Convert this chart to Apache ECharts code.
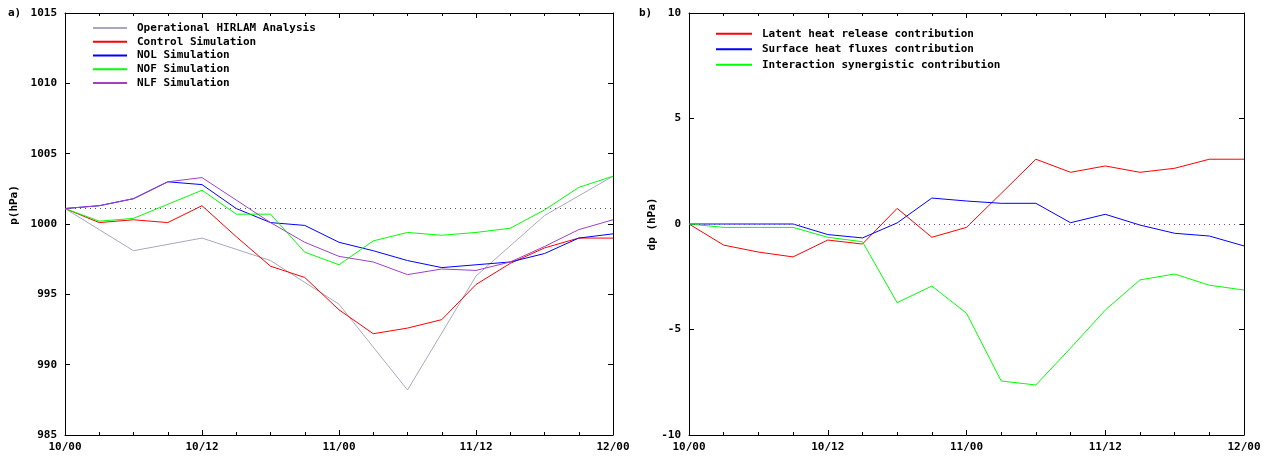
<!DOCTYPE html>
<html>
<head>
<meta charset="utf-8">
<script src="https://cdn.jsdelivr.net/npm/echarts@6/dist/echarts.min.js"></script>
<style>
html,body{margin:0;padding:0;background:#fff;}
#chart{width:1270px;height:457px;}
</style>
</head>
<body>
<div id="chart"></div>
<script>
// time axis: hours since 10/00
var hours3 = [0,3,6,9,12,15,18,21,24,27,30,33,36,39,42,45,48];
var hours6 = [0,6,12,18,24,30,36,42,48];
var xTickLabels = ['10/00','10/12','11/00','11/12','12/00'];

// panel a) surface pressure (hPa)
var hirlam  = [1001.1, 998.1, 999.0, 997.4, 994.3, 988.2, 996.3, 1000.6, 1003.4];
var control = [1001.1, 1000.1, 1000.3, 1000.1, 1001.3, 999.1, 997.0, 996.2, 993.9, 992.2, 992.6, 993.2, 995.7, 997.2, 998.3, 999.0, 999.0];
var nol     = [1001.1, 1001.3, 1001.8, 1003.0, 1002.8, 1001.1, 1000.1, 999.9, 998.7, 998.1, 997.4, 996.9, 997.1, 997.3, 997.9, 999.0, 999.3];
var nof     = [1001.1, 1000.2, 1000.4, 1001.4, 1002.4, 1000.7, 1000.7, 998.0, 997.1, 998.8, 999.4, 999.2, 999.4, 999.7, 1001.0, 1002.6, 1003.4];
var nlf     = [1001.1, 1001.3, 1001.8, 1003.0, 1003.3, 1001.7, 1000.1, 998.7, 997.7, 997.3, 996.4, 996.8, 996.7, 997.3, 998.4, 999.6, 1000.3];
var refA = 1001.1;

// panel b) contributions (hPa)
var latent  = [0, -1.0, -1.33, -1.56, -0.76, -0.95, 0.74, -0.63, -0.16, 1.45, 3.07, 2.45, 2.75, 2.45, 2.64, 3.07, 3.07];
var surface = [0, 0, 0, 0, -0.5, -0.66, 0.05, 1.23, 1.09, 0.98, 0.98, 0.06, 0.46, -0.05, -0.44, -0.57, -1.04];
var synergy = [0, -0.16, -0.16, -0.16, -0.63, -0.84, -3.73, -2.94, -4.23, -7.44, -7.63, -5.88, -4.08, -2.65, -2.37, -2.9, -3.13];
var refB = 0;

var FONT = '"DejaVu Sans Mono", monospace';

function pairs(xs, ys){
	var out = [];
	for(var i=0;i<ys.length;i++){
		out.push([xs[i], ys[i]]);
	}
	return out;
}

function xAx(grid, top){
	return {
		type: 'value', gridIndex: grid, position: top ? 'top' : 'bottom',
		min: 0, max: 48, interval: 12,
		axisLine: {show: true, onZero: false, lineStyle: {color: '#000', width: 1}},
		axisTick: {show: true, inside: true, length: 5, lineStyle: {color: '#000'}},
		minorTick: {show: true, splitNumber: 4, length: 3, lineStyle: {color: '#000'}},
		splitLine: {show: false},
		axisLabel: {
			show: !top, margin: 7, color: '#000', fontFamily: FONT, fontWeight: 'bold', fontSize: 11,
			formatter: function(v){ return xTickLabels[v/12]; }
		}
	};
}

function yAx(grid, right, min, max, name, gap, namePad){
	return {
		type: 'value', gridIndex: grid, position: right ? 'right' : 'left',
		min: min, max: max, interval: 5,
		name: right ? '' : name, nameLocation: 'middle', nameGap: gap, nameRotate: 90,
		nameTextStyle: {color: '#000', fontFamily: FONT, fontWeight: 'bold', fontSize: 11, padding: namePad || 0},
		axisLine: {show: true, onZero: false, lineStyle: {color: '#000', width: 1}},
		axisTick: {show: true, inside: true, length: 5, lineStyle: {color: '#000'}},
		splitLine: {show: false},
		axisLabel: {
			show: !right, margin: 8, color: '#000', fontFamily: FONT, fontWeight: 'bold', fontSize: 11,
			formatter: function(v){ return String(v); }
		}
	};
}

function line(name, color, xs, ys, xi, yi){
	return {
		name: name, type: 'line', xAxisIndex: xi, yAxisIndex: yi,
		data: pairs(xs, ys), symbol: 'none', silent: true,
		lineStyle: {color: color, width: 1}, itemStyle: {color: color}
	};
}

function refLine(value, color, xi, yi){
	return {
		type: 'line', xAxisIndex: xi, yAxisIndex: yi, data: [], silent: true,
		markLine: {
			symbol: 'none', silent: true, label: {show: false},
			lineStyle: {color: color, type: [1, 4], width: 1},
			data: [{yAxis: value}]
		}
	};
}

function legendText(lh){
	return {color: '#000', fontFamily: FONT, fontWeight: 'bold', fontSize: 11, lineHeight: lh, padding: [0,0,0,5]};
}

var option = {
	animation: false,
	title: [
		{text: 'a)', left: 8, top: 8, padding: 0, textStyle: {fontFamily: FONT, fontWeight: 'bold', fontSize: 11, color: '#000'}},
		{text: 'b)', left: 639, top: 8, padding: 0, textStyle: {fontFamily: FONT, fontWeight: 'bold', fontSize: 11, color: '#000'}}
	],
	legend: [
		{
			orient: 'vertical', left: 88, top: 16, itemWidth: 34, itemHeight: 2, itemGap: 0,
			icon: 'rect', textStyle: legendText(13.8),
			data: ['Operational HIRLAM Analysis','Control Simulation','NOL Simulation','NOF Simulation','NLF Simulation']
		},
		{
			orient: 'vertical', left: 711, top: 21, itemWidth: 36, itemHeight: 2, itemGap: 0,
			icon: 'rect', textStyle: legendText(15.5),
			data: ['Latent heat release contribution','Surface heat fluxes contribution','Interaction synergistic contribution']
		}
	],
	grid: [
		{left: 65, right: 657, top: 13, bottom: 22},
		{left: 689, right: 26, top: 13, bottom: 22}
	],
	xAxis: [xAx(0, false), xAx(0, true), xAx(1, false), xAx(1, true)],
	yAxis: [
		yAx(0, false, 985, 1015, 'p(hPa)', 45, [0, 0, 0, 38]),
		yAx(0, true, 985, 1015, '', 0),
		yAx(1, false, -10, 10, 'dp (hPa)', 30),
		yAx(1, true, -10, 10, '', 0)
	],
	series: [
		refLine(refA, '#555', 0, 0),
		line('Operational HIRLAM Analysis', '#a8a8c0', hours6, hirlam, 0, 0),
		line('Control Simulation', '#ff0000', hours3, control, 0, 0),
		line('NOL Simulation', '#0000ff', hours3, nol, 0, 0),
		line('NOF Simulation', '#00ff00', hours3, nof, 0, 0),
		line('NLF Simulation', '#a040c8', hours3, nlf, 0, 0),
		refLine(refB, '#8040a0', 2, 2),
		line('Latent heat release contribution', '#ff0000', hours3, latent, 2, 2),
		line('Surface heat fluxes contribution', '#0000ff', hours3, surface, 2, 2),
		line('Interaction synergistic contribution', '#00ff00', hours3, synergy, 2, 2)
	]
};

var myChart = echarts.init(document.getElementById('chart'));
myChart.setOption(option);
</script>
</body>
</html>
